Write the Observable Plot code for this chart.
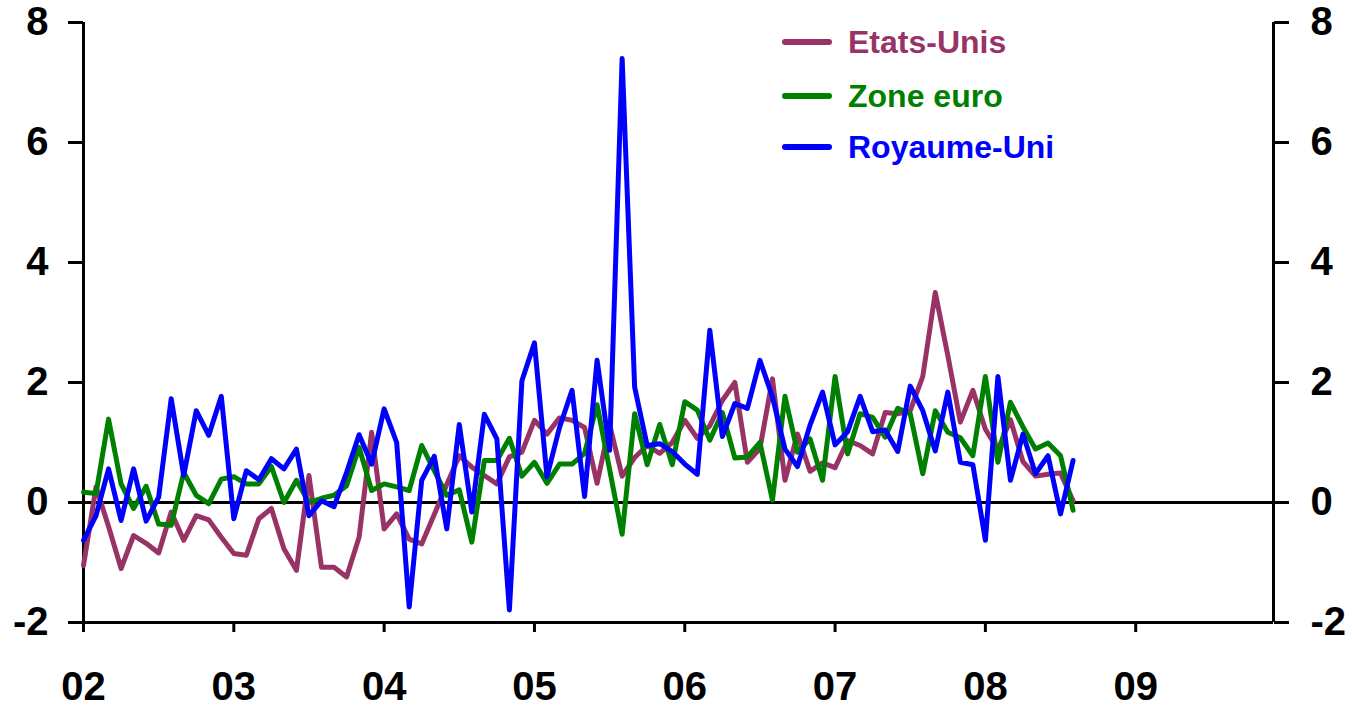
<!DOCTYPE html>
<html><head><meta charset="utf-8">
<script src="https://cdn.jsdelivr.net/npm/d3@7"></script>
<script src="https://cdn.jsdelivr.net/npm/@observablehq/plot@0.6"></script>
<style>
body{margin:0;background:#fff;}
#wrap{position:relative;width:1352px;height:708px;font-family:"Liberation Sans",Arial,sans-serif;}
#legend{position:absolute;left:780px;top:0;}
.row{position:absolute;left:0;white-space:nowrap;font-weight:bold;font-size:32px;line-height:36px;height:36px;}
.row .sw{position:absolute;left:2px;top:15px;width:50px;height:6px;border-radius:3px;}
.row .lb{position:absolute;left:68px;top:0;}
</style>
</head><body>
<div id="wrap"><div id="legend"></div></div>
<script>
// Monthly series, Jan 2002 .. Aug 2008
const seriesNames = ["Etats-Unis", "Zone euro", "Royaume-Uni"];
const seriesColors = ["#993366", "#008000", "#0000FF"];
const etatsUnis = [
 -1.05,0.26,-0.4,-1.1,-0.55,-0.68,-0.84,-0.16,-0.63,-0.22,-0.29,-0.58,
 -0.85,-0.88,-0.27,-0.1,-0.77,-1.13,0.45,-1.08,-1.08,-1.24,-0.58,1.17,
 -0.44,-0.19,-0.61,-0.69,-0.2,0.3,0.78,0.59,0.45,0.31,0.76,0.84,
 1.37,1.14,1.41,1.37,1.25,0.32,1.3,0.44,0.75,0.95,0.82,1.0,
 1.37,1.07,1.28,1.7,2.0,0.67,0.9,2.06,0.37,1.14,0.52,0.66,
 0.58,1.03,0.95,0.81,1.5,1.48,1.53,2.1,3.5,2.45,1.34,1.87,
 1.22,0.88,1.38,0.68,0.44,0.47,0.49,0.03];
const zoneEuro = [
 0.17,0.15,1.39,0.31,-0.1,0.27,-0.36,-0.38,0.5,0.12,-0.02,0.39,
 0.43,0.31,0.31,0.6,0.0,0.37,0.0,0.07,0.12,0.28,0.92,0.2,
 0.31,0.26,0.2,0.95,0.53,0.12,0.21,-0.66,0.7,0.7,1.07,0.44,
 0.67,0.32,0.64,0.64,0.82,1.63,0.55,-0.53,1.48,0.63,1.3,0.63,
 1.68,1.54,1.04,1.5,0.74,0.76,1.0,0.04,1.77,0.84,1.06,0.37,
 2.1,0.81,1.48,1.42,1.09,1.57,1.48,0.48,1.53,1.17,1.08,0.78,
 2.1,0.67,1.67,1.26,0.89,0.99,0.78,-0.13];
const royaumeUni = [
 -0.63,-0.22,0.56,-0.3,0.56,-0.31,0.09,1.73,0.45,1.53,1.12,1.77,
 -0.27,0.53,0.38,0.73,0.56,0.89,-0.22,0.03,-0.07,0.5,1.13,0.64,
 1.56,1.0,-1.74,0.37,0.77,-0.44,1.3,-0.16,1.47,1.06,-1.79,2.03,
 2.66,0.43,1.25,1.87,0.1,2.37,0.87,7.4,1.92,0.95,0.98,0.85,
 0.64,0.47,2.87,1.1,1.65,1.57,2.37,1.76,0.89,0.6,1.29,1.84,
 0.96,1.18,1.77,1.18,1.21,0.85,1.94,1.53,0.86,1.84,0.67,0.63,
 -0.63,2.1,0.37,1.14,0.48,0.78,-0.19,0.7];
const yearLabels = ["02","03","04","05","06","07","08","09"];
const yTicks = [-2,0,2,4,6,8];

const allSeries = [etatsUnis, zoneEuro, royaumeUni];
const yearTicks = yearLabels.map((_, k) => k * 12);
const txt = {fontSize: 40, fontWeight: "bold", fill: "black"};

const chart = Plot.plot({
  width: 1352, height: 708,
  marginLeft: 83, marginRight: 79, marginTop: 22, marginBottom: 86,
  x: {domain: [0, 95], label: null},
  y: {domain: [-2, 8], label: null},
  style: {fontFamily: "Liberation Sans, Arial, sans-serif", background: "white", color: "black"},
  marks: [
    Plot.axisY(yTicks, {anchor: "left", tickSize: 15, tickPadding: 20, strokeWidth: 3, tickFormat: d => String(d), label: null, ...txt}),
    Plot.axisY(yTicks, {anchor: "right", tickSize: 15, tickPadding: 22, strokeWidth: 3, tickFormat: d => String(d), label: null, ...txt}),
    Plot.axisX(yearTicks, {anchor: "bottom", tickSize: 10, tickPadding: 39, strokeWidth: 3, tickFormat: d => yearLabels[d / 12], label: null, ...txt}),
    Plot.ruleY([-2], {stroke: "black", strokeWidth: 3}),
    Plot.ruleX([0], {stroke: "black", strokeWidth: 3}),
    Plot.ruleX([95], {stroke: "black", strokeWidth: 3}),
    Plot.ruleY([0], {stroke: "black", strokeWidth: 3}),
    ...allSeries.map((s, k) => Plot.lineY(s, {x: (d, i) => i, y: d => d, stroke: seriesColors[k], strokeWidth: 5}))
  ]
});
document.getElementById("wrap").prepend(chart);

const legend = document.getElementById("legend");
const rowTops = [24, 78, 129];
seriesNames.forEach((name, k) => {
  const row = document.createElement("div");
  row.className = "row";
  row.style.top = rowTops[k] + "px";
  row.style.color = seriesColors[k];
  row.innerHTML = `<span class="sw" style="background:${seriesColors[k]}"></span><span class="lb">${name}</span>`;
  legend.appendChild(row);
});
</script>
</body></html>
